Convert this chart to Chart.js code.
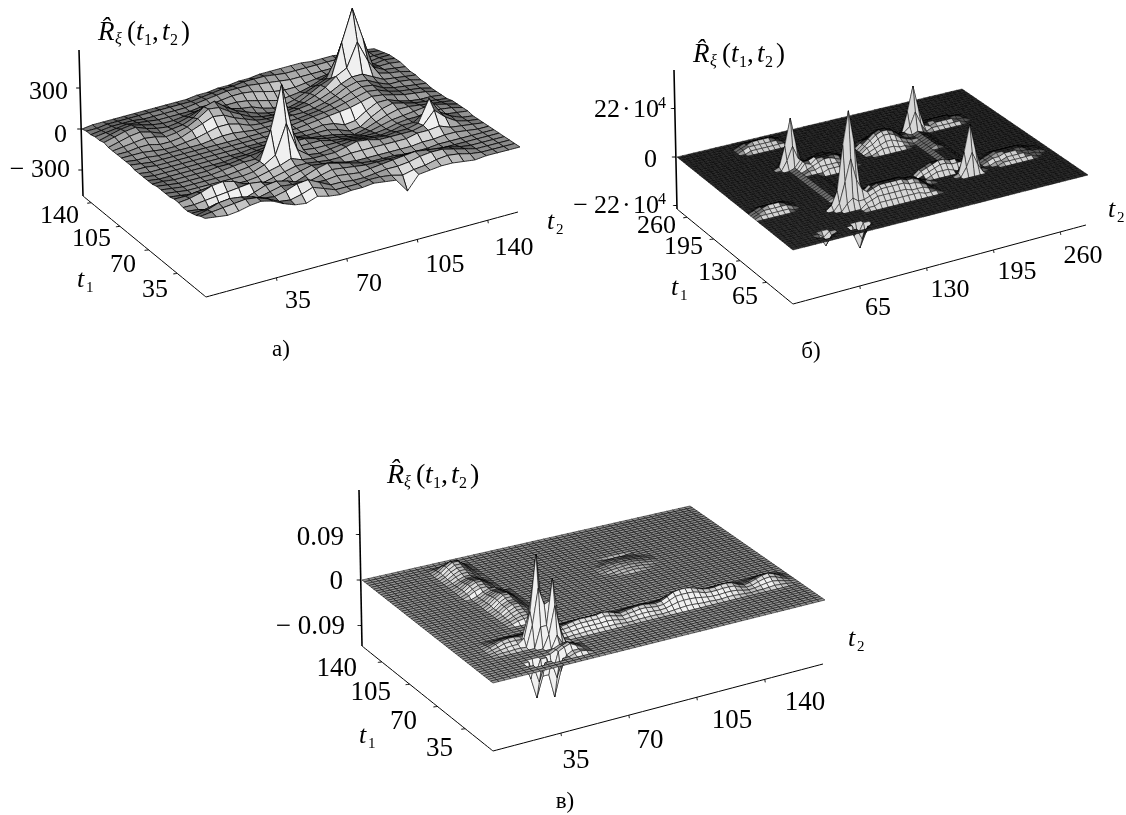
<!DOCTYPE html>
<html><head><meta charset="utf-8">
<style>html,body{margin:0;padding:0;background:#fff}canvas{position:absolute}</style>
<script src="https://cdn.jsdelivr.net/npm/chart.js@4"></script></head><body>
<canvas id="pa" width="563" height="400" style="left:0;top:0"></canvas>
<canvas id="pb" width="563" height="400" style="left:563px;top:0"></canvas>
<canvas id="pc" width="1126" height="415" style="left:0;top:400px"></canvas>
<script>
// ---- data ----
const ticksT_A=[35,70,105,140], ticksT_B=[65,130,195,260], ticksT_C=[35,70,105,140];
const ticksZ_A=[300,0,-300], ticksZ_B=[22,0,-22], ticksZ_C=[90,0,-90];
// panel а: full height table, rows t1 from 0 upward, columns t2 from 0 upward
const heightsA=[
[70,60,50,60,80,90,70,30,0,-10,20,0,-10,0,0,10,0,-10,-110,-10,0,10,10,0,-10,0,0,0,0],
[60,70,80,90,100,90,60,20,10,30,60,30,0,0,0,10,10,0,-20,0,10,30,40,30,10,0,0,0,0],
[40,60,90,100,90,70,40,30,50,80,90,50,10,10,0,0,10,20,20,30,50,60,60,40,20,0,0,0,0],
[30,30,50,60,40,10,20,40,60,50,40,20,20,30,20,10,20,30,40,50,60,50,40,30,10,0,0,0,0],
[20,10,-10,-20,-10,0,30,60,70,50,20,10,30,50,40,30,20,20,20,20,20,10,0,0,0,0,0,0,0],
[20,20,30,40,50,60,70,60,30,0,-10,20,50,70,50,30,10,0,0,0,-10,-10,-10,0,0,0,0,0,0],
[30,40,60,90,100,80,40,10,-10,-20,10,30,50,40,30,10,0,0,0,0,0,0,10,10,20,20,10,0,0],
[30,30,40,50,40,20,0,-20,-20,0,20,40,40,30,20,20,30,30,30,30,30,30,50,50,60,30,20,10,0],
[20,10,0,-10,-10,-10,-10,-10,0,20,40,70,40,30,30,30,50,70,60,40,40,40,40,60,150,80,30,10,0],
[20,10,0,0,0,0,0,0,10,40,90,300,90,30,20,30,40,50,40,30,20,30,30,50,210,90,40,10,0],
[20,10,0,0,0,0,0,10,20,40,250,560,200,40,30,30,30,30,20,10,0,10,30,30,80,40,30,20,10],
[20,10,0,0,0,0,10,20,30,30,90,280,90,40,40,40,20,10,0,-10,-10,0,20,30,30,40,40,30,10],
[10,10,0,0,0,0,10,10,20,30,40,60,50,50,50,30,10,0,-20,-30,-20,0,20,30,40,50,50,30,10],
[10,0,0,0,0,0,0,0,10,10,20,30,40,40,30,10,0,-10,-30,-50,-30,0,30,50,50,40,30,20,10],
[10,0,0,0,0,0,0,0,0,0,10,10,10,20,10,0,0,0,-20,-50,-40,10,50,70,50,30,20,10,0],
[10,0,0,0,0,0,0,0,0,0,0,0,0,0,0,0,0,10,0,-30,-20,30,70,70,40,20,10,10,0],
[10,10,0,0,0,0,0,0,0,0,0,0,0,0,0,0,10,20,30,40,50,70,90,80,60,40,30,20,0],
[20,10,0,0,0,0,0,0,0,0,0,0,0,0,0,0,10,20,30,40,60,80,100,90,60,40,30,20,0],
[20,10,10,0,0,0,0,0,10,20,20,10,0,0,0,0,0,10,20,40,60,90,110,100,60,40,30,20,10],
[20,20,20,10,0,0,10,20,40,60,60,40,10,0,0,0,0,0,10,30,60,100,120,110,70,40,40,30,10],
[20,20,30,30,10,10,20,50,80,110,100,60,30,0,-10,-10,-10,0,10,30,60,100,130,130,90,50,40,30,20],
[20,30,40,50,40,20,30,50,90,140,130,80,40,0,-20,-30,-30,-20,0,30,70,130,170,340,180,70,50,40,20],
[20,40,60,70,50,20,30,40,70,130,150,90,40,10,-20,-40,-50,-40,-20,20,60,90,330,560,320,90,50,40,30],
[30,50,70,80,50,30,20,30,50,80,100,70,30,10,0,-30,-50,-50,-30,0,30,60,200,400,220,70,50,50,40],
[20,40,60,70,50,30,20,20,30,40,50,40,30,30,20,0,-20,-40,-30,-20,0,30,60,110,70,40,40,50,40],
[20,30,40,50,40,30,20,20,20,20,30,30,40,50,50,40,20,0,-10,-10,0,10,20,20,20,20,30,40,40],
[10,20,30,30,30,20,20,20,20,20,30,40,50,60,60,60,50,40,30,20,20,20,20,20,20,20,30,30,30],
[10,10,20,20,20,20,20,20,20,20,20,30,40,50,50,60,60,60,50,40,40,40,40,40,40,40,30,30,20],
[0,10,10,10,10,10,10,10,10,10,10,20,20,30,30,40,40,50,50,50,50,50,40,40,40,30,20,20,10]];
// panel б (units of 10^4) : [row, first column, heights...], everything else is 0
const patchesB=[
[3,6,-1,-5,-1],[2,7,-2],[4,7,-2],[3,12,-4,-10,-4],[2,13,-5],[4,13,-5],
[11,14,3,5,3],[12,13,3,12,22,12,3],[13,12,2,8,28,43,28,9,4],[14,13,3,14,24,14,5],[15,14,3,6,3],
[35,13,4,10,4],[36,12,1,10,22,10,1],[37,13,4,10,4],
[37,36,4,10,4],[38,35,1,10,21,10,1],[39,36,4,10,4],
[13,36,4,10,4],[14,35,1,10,22,10,1],[15,36,4,10,4],
[9,17,1,1,2,2,2,2,2,2,2,2,1,1,1],[10,17,2,3,4,4,4,4,4,4,3,3,3,2,1],[11,17,3,4,5,6,6,6,6,6,5,5,4,3,1],
[12,17,4,5,6,7,7,7,7,7,6,6,5,3,1],[13,19,6,7,7,7,7,7,6,6,5,3,1],[14,18,4,6,6,6,6,6,6,5,5,4,3,2,1],
[15,18,3,4,5,5,5,5,5,4,4,3,2,1],[16,18,2,3,3,3,3,3,3,3,2,2,1,1],[17,18,1,1,1,2,2,2,2,2,1,1,1],
[29,16,1,1,2,2,2,1,1],[30,15,1,2,3,3,3,3,2,1,1],[31,15,1,3,4,5,5,4,3,2,1],[32,15,2,3,5,5,5,5,4,2,1],
[33,15,2,4,5,5,5,5,4,2,1],[34,15,2,3,4,5,5,4,3,2,1],[35,16,2,3,3,3,3,2,1,1],[36,17,1,2,2,2,1,1],
[32,28,1,2,2,2,1,1],[33,27,1,2,3,4,4,3,2,1],[34,27,2,3,5,6,6,5,3,2,1],[35,27,2,4,6,7,7,6,4,2,1],
[36,27,2,4,6,7,7,6,4,2,2],[37,27,2,3,5,6,6,5,3,2,2],[38,28,2,3,4,4,3,2],[39,28,1,2,2,2,1,1],
[16,31,1,2,2,2,1],[17,30,1,2,3,4,4,3,2,1],[18,30,2,3,4,5,5,4,3,1],[19,30,2,3,4,4,4,3,2,1],[20,31,1,2,2,2,1],
[14,43,1,1,1,1,1,1],[15,42,1,1,2,2,2,2,1,1],[16,41,1,2,2,3,3,3,2,2,1,1],[17,41,1,2,3,3,3,3,3,2,1,1],
[18,41,1,2,3,3,3,3,3,2,1,1],[19,42,1,2,2,2,2,2,1,1],[20,43,1,1,1,1,1,1],
[37,40,1,1,1,1,1,1],[38,39,1,1,2,2,2,2,1,1],[39,39,1,2,2,2,2,2,2,1],[40,39,1,1,2,2,2,2,1,1],[41,40,1,1,1,1,1],
[46,11,1,1,1,1,1,1,1],[47,10,1,2,2,2,2,2,2,1],[48,10,1,2,3,3,3,3,2,1],[49,10,1,2,2,2,2,2,2,1],[50,11,1,1,1,1,1,1],
[17,1,1,1,1,1,1,1],[18,1,1,2,2,2,2,2,1],[19,1,1,2,3,3,3,2,1],[20,1,1,2,2,2,2,2,1],[21,2,1,1,1,1,1],
[17,14,1,2,1],[18,14,1,1,1],[19,14,1,1,1],[20,14,1,1,1],[21,14,1,1,1],[22,14,1,1,1],[23,14,1,1,1],[24,14,1,1,1],[25,14,1,1,1],[26,14,1,1,1],[27,14,1,1,1],[28,14,1,1,1],[29,14,1,1],[30,14,1,1],[31,14,1,1],[32,14,1,2],[33,14,1,2],[34,14,1,2],
[17,36,1,2,1],[18,36,1,1,1],[19,36,1,1,1],[20,36,1,1,1],[21,36,1,1,1],[22,36,1,1,1],[23,36,1,1,1],[24,36,1,1,1],[25,36,1,1,1],[26,36,1,1,1],[27,36,1,1,1],[28,36,1,2,1],[29,36,1,2,1],[30,36,1,2,1],[31,36,1,2,1],[32,36,1,2,1],[33,36,1,2,1],[34,36,1,2,1],[35,36,1,2,1],[36,36,1,2,1]];
// panel в (units of 0.001) : [row, first column, heights...], everything else is 0
const ridgeC14=[4,8,12,14,14,12,12,14,16,16,14,12,12,14,16,18,18,18,18,20,18,14,10,12,14,16,16,14,12,14,20,26,28,28,26,22,18,16,16,18,18,16,10,6,8,12,16,18,14,8,2];
const ridgeC13=[3,6,10,11,11,10,10,11,13,13,11,10,10,11,13,14,14,14,14,16,14,11,8,10,11,13,13,11,10,11,16,21,22,22,21,18,14,13,13,14,14,13,8,5,6,10,13,14,11,6,2];
const ridgeC12=[2,4,6,7,7,6,6,7,8,8,7,6,6,7,8,9,9,9,9,10,9,7,5,6,7,8,8,7,6,7,10,13,14,14,13,11,9,8,8,9,9,8,5,3,4,6,8,9,7,4,1];
const ridgeC11=[1,2,2,3,3,2,2,3,3,3,3,2,2,3,3,4,4,4,4,4,4,3,2,2,3,3,3,3,2,3,4,5,6,6,5,4,4,3,3,4,4,3,2,1,2,2,3,4,3,2,0];
const patchesC=[
[11,5,...ridgeC11],[12,5,...ridgeC12],[13,5,...ridgeC13],[14,5,...ridgeC14],[15,5,...ridgeC13],[16,5,...ridgeC12],[17,5,...ridgeC11],
[22,12,2,6,8,8,5,2],[23,12,3,7,10,10,6,2],[24,12,3,8,12,12,7,2],[25,12,4,10,14,14,8,3],[26,12,4,11,16,16,10,3],[27,12,5,13,18,18,11,4],[28,12,5,13,18,18,11,4],[29,12,5,13,18,18,11,4],
[30,12,5,14,20,20,12,4],[31,12,6,15,22,22,13,4],[32,12,6,15,22,22,13,4],[33,12,5,14,20,20,12,4],[34,12,5,13,18,18,11,4],[35,12,4,11,16,16,10,3],[36,12,4,10,14,14,8,3],[37,12,4,10,14,14,8,3],
[38,11,4,10,14,14,8,3],[39,11,4,11,16,16,10,3],[40,11,5,13,18,18,11,4],[41,11,5,13,18,18,11,4],[42,11,4,11,16,16,10,3],[43,11,4,10,14,14,8,3],[44,11,3,8,12,12,7,2],[45,11,3,8,12,12,7,2],
[46,11,4,10,14,14,8,3],[47,11,4,11,16,16,10,3],[48,11,5,13,18,18,11,4],[49,11,5,14,20,20,12,4],[50,11,6,15,22,22,13,4],[51,11,5,14,20,20,12,4],[52,11,4,10,14,14,8,3],[53,11,2,4,6,6,4,1],
[12,10,10,60,170,60,10],[13,11,40,110,40],[11,11,40,110,50],[14,12,30],[10,12,30],
[10,12,10,40,130,40,5],[11,13,25,80,25],[9,13,25,80,25],[8,14,20],[12,14,20],
[4,8,-30,-70,-30],[3,9,-35],[5,9,-35],[4,11,-30,-77,-30],[3,12,-35],[5,12,-35],
[3,15,4,6,4],[4,15,6,6,3],[5,13,6,12,16,10,4],[6,13,6,12,16,10,4],[7,13,5,10,12,8,3],[8,14,5,5,5],
[33,35,1,2,3,2,1],[34,34,1,3,4,4,4,3,1],[35,33,1,3,4,5,6,5,4,3,1],[36,33,2,3,5,6,6,6,5,3,2],[37,33,2,3,5,6,6,6,5,3,2],[38,33,1,3,4,5,6,5,4,3,1],[39,34,1,3,4,4,4,3,1],[40,35,1,2,3,2,1],[41,35,-1,-2,-2,-2,-1]];

// ---- layout ----
const panels=[
{id:'pa',box:[0,0,563,400],heights:heightsA,size:29,F:[205,228],R:[520,147],L:[82,129],B:[374,50],floor:[1,67],zPx:41/300,
 zTop:[79,50],t1Max:150,t2Max:155,t1Ticks:ticksT_A,t2Ticks:ticksT_A,zTicks:ticksZ_A,lw:.8,flat:135,gain:.55,cap:240,
 texts:[['300',68,99,26,'right'],['0',67,142,26,'right'],['− 300',70,177,26,'right'],
  ['140',79,223,26,'right'],['105',111,246,26,'right'],['70',136,272,26,'right'],['35',168,297,26,'right'],
  ['35',298,308,26,'center'],['70',369,291,26,'center'],['105',445,272,26,'center'],['140',514,255,26,'center'],['а)',281,356,23,'center']],
 t1Label:[77,287],t2Label:[547,229],title:[98,40,27]},
{id:'pb',box:[563,0,563,400],patches:patchesB,size:53,F:[793,250],R:[1088,175],L:[677,157],B:[962,89],floor:[0,52],zPx:48.5/22,
 zTop:[674,70],t1Max:285,t2Max:285,t1Ticks:ticksT_B,t2Ticks:ticksT_B,zTicks:ticksZ_B,lw:.5,flat:40,gain:.8,cap:215,
 texts:[['0',657,167,26,'right'],['−',588,213,26,'right'],
  ['260',676,233,26,'right'],['195',703,254,26,'right'],['130',737,280,26,'right'],['65',758,304,26,'right'],
  ['65',878,315,26,'center'],['130',950,297,26,'center'],['195',1017,279,26,'center'],['260',1083,263,26,'center'],['б)',811,358,23,'center']],
 power:[[594,117],[594,213]],t1Label:[671,295],t2Label:[1108,217],title:[693,62,27]},
{id:'pc',box:[0,400,1126,415],patches:patchesC,size:57,F:[493,683],R:[825,600],L:[362,580],B:[690,506],floor:[0,66],zPx:45.5/90,
 zTop:[359,490],t1Max:165,t2Max:170,t1Ticks:ticksT_C,t2Ticks:ticksT_C,zTicks:ticksZ_C,lw:.55,flat:150,gain:.75,cap:240,
 texts:[['0.09',344,545,27,'right'],['0',343,589,27,'right'],['− 0.09',345,634,27,'right'],
  ['140',357,676,27,'right'],['105',391,700,27,'right'],['70',417,729,27,'right'],['35',453,756,27,'right'],
  ['35',576,768,27,'center'],['70',650,748,27,'center'],['105',732,728,27,'center'],['140',805,710,27,'center'],['в)',565,808,23,'center']],
 t1Label:[359,743],t2Label:[848,646],title:[387,483,28]}
];

const SERIF='"Liberation Serif","Times New Roman",serif';
function gridOf(p){
  if(p.heights) return p.heights;
  const g=[];for(let i=0;i<p.size;i++)g.push(new Array(p.size).fill(0));
  for(const r of p.patches){for(let k=2;k<r.length;k++){if(r[1]+k-2<p.size)g[r[0]][r[1]+k-2]+=r[k];}}
  return g;
}
function ground(p,u,v){
  const a=(1-u)*(1-v),b=u*(1-v),c=(1-u)*v,d=u*v;
  return {x:a*p.F[0]+b*p.R[0]+c*p.L[0]+d*p.B[0],y:a*p.F[1]+b*p.R[1]+c*p.L[1]+d*p.B[1]};
}
function area(q){let s=0;for(let k=0;k<4;k++){const a=q[k],b=q[(k+1)%4];s+=a.x*b.y-b.x*a.y;}return Math.abs(s)/2;}
function line(pts,w){return {data:pts,fill:false,borderColor:'#000',borderWidth:w,pointRadius:0,tension:1e-6};}
function buildDatasets(p){
  const g=gridOf(p),n=g.length,ds=[],pts=[];
  for(let i=0;i<n;i++){pts.push([]);for(let j=0;j<n;j++){const q=ground(p,j/(n-1),i/(n-1));q.y-=(g[i][j]||0)*p.zPx;pts[i].push(q);}}
  const flatA=area([ground(p,.5,.5),ground(p,.5+1/(n-1),.5),ground(p,.5+1/(n-1),.5+1/(n-1)),ground(p,.5,.5+1/(n-1))]);
  // nearest cells first: Chart.js paints index 0 last
  for(let s=0;s<=2*(n-2);s++){
    for(let i=0;i<n-1;i++){const j=s-i;if(j<0||j>=n-1)continue;
      const q=[pts[i][j],pts[i][j+1],pts[i+1][j+1],pts[i+1][j]];
      const r=area(q)/flatA;
      const c=Math.round(r<1?p.flat*Math.max(r,.75):Math.min(p.cap,p.flat+(255-p.flat)*(r-1)*p.gain));
      ds.push({data:[q[0],q[1],q[2],q[3],q[0]],fill:'shape',backgroundColor:`rgb(${c},${c},${c})`,borderColor:'#000',borderWidth:p.lw,pointRadius:0,tension:1e-6});
    }
  }
  // axes
  const Lf={x:p.L[0]+p.floor[0],y:p.L[1]+p.floor[1]+0},Ff={x:p.F[0]+p.floor[0],y:p.F[1]+p.floor[1]+2},Rf={x:p.R[0]-2,y:p.R[1]+p.floor[1]-2};
  ds.push(line([{x:p.zTop[0],y:p.zTop[1]},Lf],1.6));
  ds.push(line([Lf,Ff,Rf],1));
  for(const t of p.t1Ticks){const f=t/p.t1Max,x=Ff.x+(Lf.x-Ff.x)*f,y=Ff.y+(Lf.y-Ff.y)*f;ds.push(line([{x,y},{x:x-4,y:y+.5}],1));}
  for(const t of p.t2Ticks){const f=t/p.t2Max,x=Ff.x+(Rf.x-Ff.x)*f,y=Ff.y+(Rf.y-Ff.y)*f;ds.push(line([{x,y},{x:x+.5,y:y+3}],1));}
  for(const z of p.zTicks){const y=p.L[1]-z*p.zPx,x=p.zTop[0]+(Lf.x-p.zTop[0])*(y-p.zTop[1])/(Lf.y-p.zTop[1]);ds.push(line([{x:x-4,y},{x,y}],1));}
  return ds;
}
function put(ctx,s,x,y,size,style,align){ctx.font=`${style||''} ${size}px ${SERIF}`;ctx.textAlign=align||'left';ctx.textBaseline='alphabetic';ctx.fillStyle='#000';ctx.fillText(s,x,y);}
const textPlugin={id:'panelText',afterDraw(chart,args,o){
  const p=o.panel,ctx=chart.ctx;ctx.save();ctx.translate(-p.box[0],-p.box[1]);
  for(const t of p.texts)put(ctx,t[0],t[1],t[2],t[3],'',t[4]);
  (p.power||[]).forEach(q=>{put(ctx,'22',q[0],q[1],26);put(ctx,'·',q[0]+28,q[1],26);put(ctx,'10',q[0]+39,q[1],26);put(ctx,'4',q[0]+64,q[1]-9,16);});
  const [x,y,f]=p.title;
  put(ctx,'R\u0302',x,y,f,'italic');put(ctx,'ξ',x+17,y+4,16,'italic');put(ctx,'(',x+29,y,f);put(ctx,'t',x+38,y,f,'italic');put(ctx,'1',x+46,y+5,16);
  put(ctx,',',x+54,y,f);put(ctx,'t',x+64,y,f,'italic');put(ctx,'2',x+72,y+5,16);put(ctx,')',x+83,y,f);
  put(ctx,'t',p.t1Label[0],p.t1Label[1],26,'italic');put(ctx,'1',p.t1Label[0]+9,p.t1Label[1]+5,15);
  put(ctx,'t',p.t2Label[0],p.t2Label[1],26,'italic');put(ctx,'2',p.t2Label[0]+9,p.t2Label[1]+5,15);
  ctx.restore();
}};
Chart.defaults.font.family=SERIF;
for(const p of panels){
  new Chart(document.getElementById(p.id),{type:'line',plugins:[textPlugin],
    data:{datasets:buildDatasets(p)},
    options:{responsive:false,animation:false,parsing:false,normalized:false,devicePixelRatio:1,events:[],
      layout:{padding:0},
      plugins:{legend:{display:false},tooltip:{enabled:false},panelText:{panel:p}},
      scales:{x:{type:'linear',display:false,min:p.box[0],max:p.box[0]+p.box[2]},
              y:{type:'linear',display:false,reverse:true,min:p.box[1],max:p.box[1]+p.box[3]}}}});
}
</script></body></html>
